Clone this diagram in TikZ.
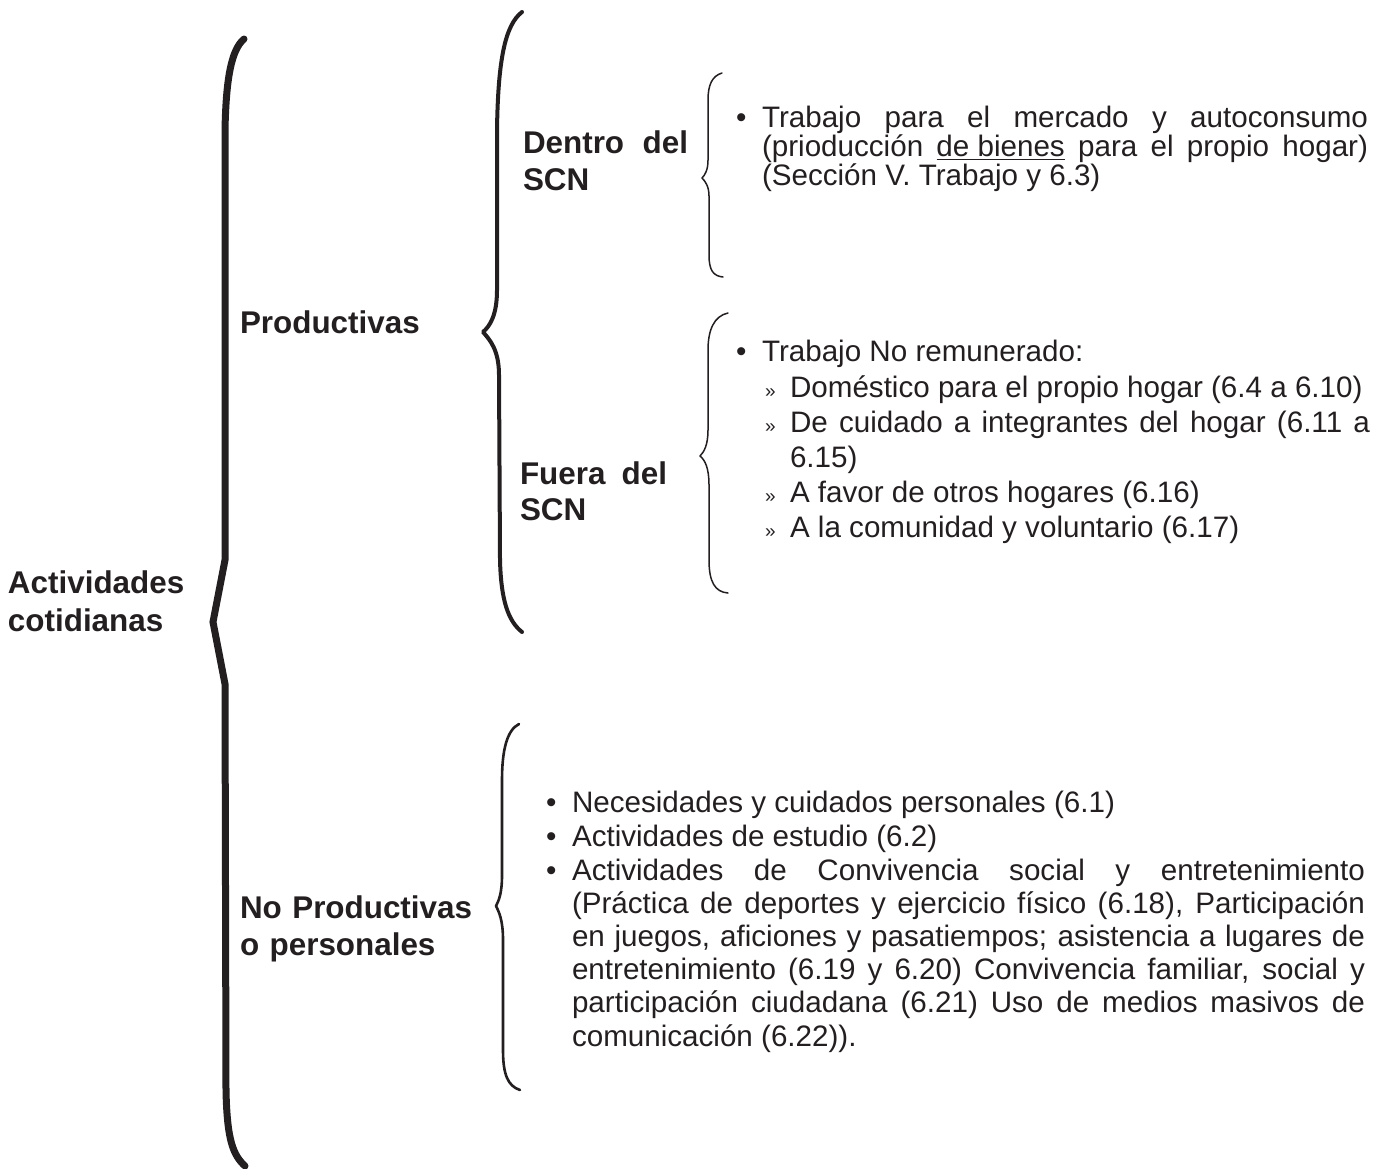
\documentclass[tikz,border=0pt]{standalone}
\usepackage{fontspec}
\setmainfont{Liberation Sans}
\definecolor{ink}{HTML}{231F20}
\hyphenpenalty=10000
\exhyphenpenalty=10000
\tolerance=10000
\hbadness=10000
\begin{document}
\begin{tikzpicture}[x=0.5pt,y=-0.5pt,
  lab/.style={anchor=base west, inner sep=0pt, outer sep=0pt, text=ink, align=left,
    font=\fontsize{15.7pt}{18.5pt}\selectfont\bfseries},
  labj/.style={lab, align=justify},
  body/.style={anchor=base west, inner sep=0pt, outer sep=0pt, text=ink,
    font=\fontsize{14.8pt}{17.5pt}\selectfont},
  bodyj/.style={body, align=justify},
  bul/.style={anchor=base west, inner sep=0pt, outer sep=0pt, text=ink,
    font=\fontsize{14.8pt}{17.5pt}\selectfont},
  sub/.style={anchor=base west, inner sep=0pt, outer sep=0pt, text=ink,
    font=\fontsize{9.5pt}{10pt}\selectfont},
  bracebig/.style={draw=ink, line width=3.5pt, line cap=round, line join=miter},
  bracemid/.style={draw=ink, line width=2pt, line cap=round, line join=round},
  bracethin/.style={draw=ink, line width=0.75pt, line cap=round, line join=round},
  bracebot/.style={draw=ink, line width=1.3pt, line cap=round, line join=round}]
\path[use as bounding box] (0,0) rectangle (1384,1168);

% ---------- labels ----------
\node[lab, text width=100pt, font=\fontsize{15.7pt}{19pt}\selectfont\bfseries] (act) at (8,593) {Actividades\\cotidianas};
\node[lab, text width=100pt] (prod) at (240,333) {Productivas};
\node[labj, text width=82.5pt] (dentro) at (523,153) {Dentro del SCN};
\node[labj, text width=73.5pt, font=\fontsize{15.7pt}{18pt}\selectfont\bfseries] (fuera) at (520,484) {Fuera del SCN};
\node[lab, text width=130pt] (noprod) at (240,918) {No Productivas\\o personales};

% ---------- braces ----------
\coordinate (b1top) at (244,39);
\coordinate (b1tip) at (213,622);
\coordinate (b1bot) at (245,1166);
\path[bracebig] (b1top) .. controls (231,50) and (226,80) .. (225,130)
  -- (225,560) -- (b1tip) -- (225,684) -- (226,1090)
  .. controls (227,1140) and (233,1155) .. (b1bot);

\coordinate (b2top) at (522,12);
\coordinate (b2tip) at (483,332);
\coordinate (b2bot) at (522,632);
\path[bracemid] (b2top) .. controls (505,25) and (498,60) .. (497,130)
  -- (497,290) .. controls (497,315) and (490,326) .. (b2tip)
  .. controls (490,340) and (499,350) .. (499,375)
  -- (500,560) .. controls (501,600) and (508,621) .. (b2bot);

\coordinate (b3top) at (722,73);
\coordinate (b3tip) at (702,178);
\coordinate (b3bot) at (723,277);
\path[bracethin] (b3top) .. controls (712,76) and (708,85) .. (708,100)
  -- (708,160) .. controls (708,170) and (705,175) .. (b3tip)
  .. controls (705,181) and (709,186) .. (709,196)
  -- (709,255) .. controls (709,270) and (713,276) .. (b3bot);

\coordinate (b4top) at (728,313);
\coordinate (b4tip) at (700,456);
\coordinate (b4bot) at (728,593);
\path[bracethin] (b4top) .. controls (714,316) and (708,330) .. (708,350)
  -- (708,430) .. controls (708,445) and (704,452) .. (b4tip)
  .. controls (705,460) and (709,468) .. (709,485)
  -- (709,560) .. controls (709,582) and (715,592) .. (b4bot);

\coordinate (b5top) at (519,724);
\coordinate (b5tip) at (496,906);
\coordinate (b5bot) at (520,1090);
\path[bracebot] (b5top) .. controls (507,730) and (502,750) .. (502,780)
  -- (502,875) .. controls (502,893) and (499,900) .. (b5tip)
  .. controls (499,912) and (503,920) .. (503,940)
  -- (503,1050) .. controls (503,1075) and (508,1086) .. (b5bot);

% ---------- dentro del SCN ----------
\node[bul] (d1b) at (736,127) {•};
\node[bodyj, text width=303pt, font=\fontsize{14.8pt}{14.5pt}\selectfont] (d1) at (762,127)
  {Trabajo para el mercado y autoconsumo\linebreak (prioducción \underline{de bienes} para el propio hogar)\linebreak (Sección V. Trabajo y 6.3)};

% ---------- fuera del SCN ----------
\node[bul] (f1b) at (736,361) {•};
\node[body] (f1) at (762,361) {Trabajo No remunerado:};
\node[sub] (s1b) at (765,397) {»};
\node[body] (s1) at (790,397) {Doméstico para el propio hogar (6.4 a 6.10)};
\node[sub] (s2b) at (765,432) {»};
\node[bodyj, text width=290pt, font=\fontsize{14.8pt}{17.5pt}\selectfont] (s2) at (790,432) {De cuidado a integrantes del hogar (6.11 a\linebreak 6.15)};
\node[sub] (s3b) at (765,502) {»};
\node[body] (s3) at (790,502) {A favor de otros hogares (6.16)};
\node[sub] (s4b) at (765,537) {»};
\node[body] (s4) at (790,537) {A la comunidad y voluntario (6.17)};

% ---------- no productivas ----------
\node[bul] (n1b) at (546,812) {•};
\node[body] (n1) at (572,812) {Necesidades y cuidados personales (6.1)};
\node[bul] (n2b) at (546,846) {•};
\node[body] (n2) at (572,846) {Actividades de estudio (6.2)};
\node[bul] (n3b) at (546,880) {•};
\node[bodyj, text width=396.5pt, font=\fontsize{14.8pt}{16.6pt}\selectfont] (n3) at (572,880)
  {Actividades de Convivencia social y entretenimiento\linebreak (Práctica de deportes y ejercicio físico (6.18), Participación\linebreak en juegos, aficiones y pasatiempos; asistencia a lugares de\linebreak entretenimiento (6.19 y 6.20) Convivencia familiar, social y\linebreak participación ciudadana (6.21) Uso de medios masivos de\linebreak comunicación (6.22)).};
\end{tikzpicture}
\end{document}
